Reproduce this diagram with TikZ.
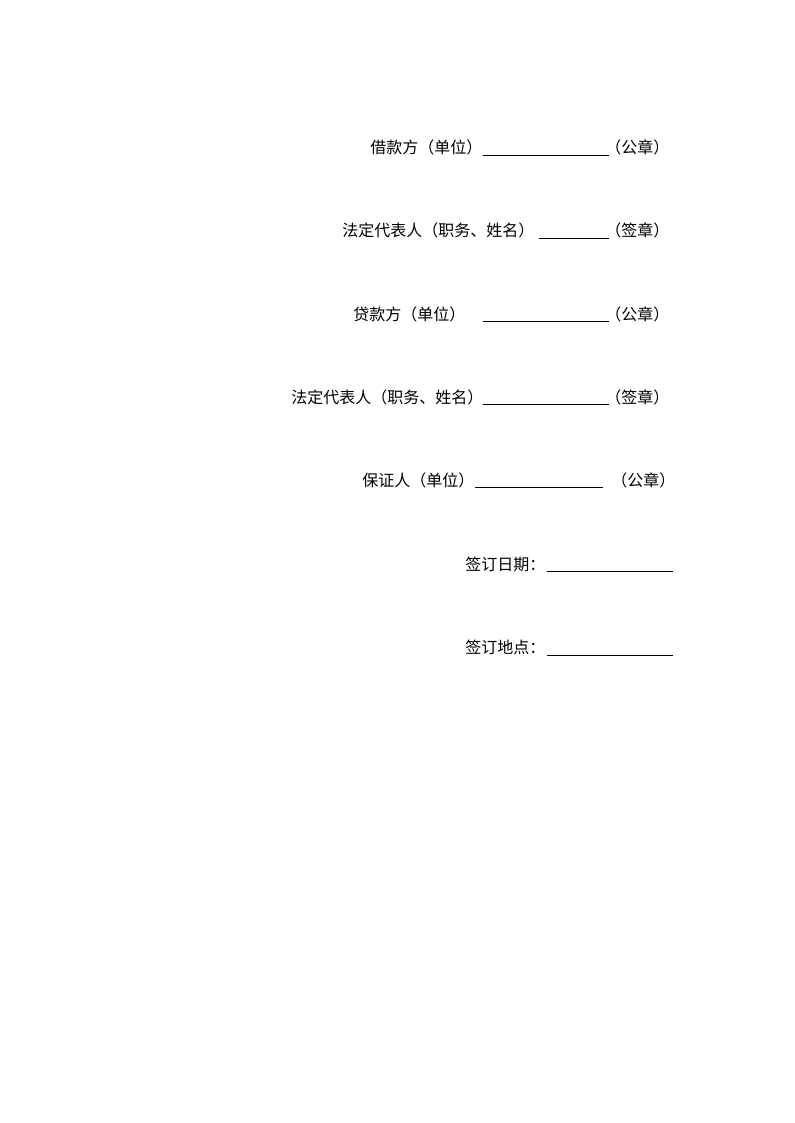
\documentclass[tikz,border=0pt]{standalone}
\usepackage{fontspec}
\newfontfamily\cjk{Noto Sans CJK SC}
\begin{document}
\begin{tikzpicture}[x=0.75pt,y=-0.75pt,
  txt/.style={anchor=base west,inner sep=0pt,font=\cjk\fontsize{12}{14}\selectfont},
  uline/.style={line width=0.75pt}]
\useasboundingbox (0,0) rectangle (794,1123);
% line 1
\node[txt] (t1) at (370,154) {借款方（单位）};
\draw[uline] (483,155.5) coordinate (u1a) -- (609,155.5) coordinate (u1b);
\node[txt] (s1) at (605,154) {（公章）};
% line 2
\node[txt] (t2) at (342,237) {法定代表人（职务、姓名）};
\draw[uline] (539,238.5) coordinate (u2a) -- (609,238.5) coordinate (u2b);
\node[txt] (s2) at (605,237) {（签章）};
% line 3
\node[txt] (t3) at (353,320) {贷款方（单位）};
\draw[uline] (483,321.5) coordinate (u3a) -- (609,321.5) coordinate (u3b);
\node[txt] (s3) at (605,320) {（公章）};
% line 4
\node[txt] (t4) at (291,403) {法定代表人（职务、姓名）};
\draw[uline] (483,404.5) coordinate (u4a) -- (609,404.5) coordinate (u4b);
\node[txt] (s4) at (605,403) {（签章）};
% line 5
\node[txt] (t5) at (362,486) {保证人（单位）};
\draw[uline] (475,487.5) coordinate (u5a) -- (603,487.5) coordinate (u5b);
\node[txt] (s5) at (611,486) {（公章）};
% line 6
\node[txt] (t6) at (465,570) {签订日期：};
\draw[uline] (547,571.5) coordinate (u6a) -- (673,571.5) coordinate (u6b);
% line 7
\node[txt] (t7) at (465,653) {签订地点：};
\draw[uline] (547,655.5) coordinate (u7a) -- (673,655.5) coordinate (u7b);
\end{tikzpicture}
\end{document}
